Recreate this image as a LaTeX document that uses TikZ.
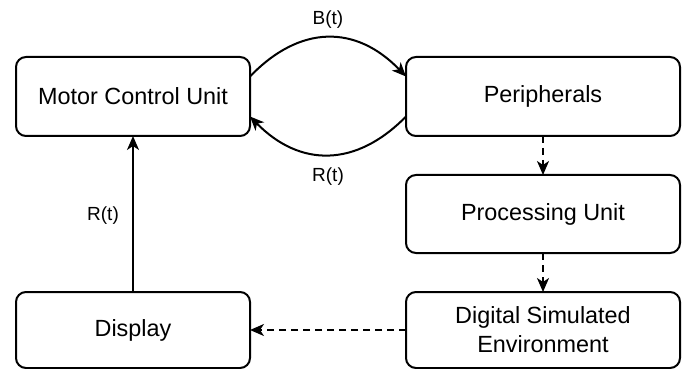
\documentclass[tikz,border=0pt]{standalone}
\usepackage{fontspec}
\setmainfont{Liberation Sans}
\usetikzlibrary{arrows.meta,calc}
\begin{document}
\begin{tikzpicture}[x=0.5pt,y=-0.5pt,
  box/.style={draw, line width=1pt, rounded corners=5pt, inner sep=0pt, outer sep=0pt,
    align=center, font=\fontsize{11.7}{14.5}\selectfont},
  leftbox/.style={box, minimum width=117pt},
  rightbox/.style={box, minimum width=137pt},
  link/.style={line width=1pt, -{Stealth[length=7pt,width=6pt,inset=2pt]}},
  dashlink/.style={link, dash pattern=on 3.5pt off 2.5pt},
  lbl/.style={font=\fontsize{9.5}{11}\selectfont, inner sep=0pt}]
\useasboundingbox (0,0) rectangle (686,369);

% blocks
\node[leftbox, minimum height=39.5pt] (mcu) at (133,96.5) {Motor Control Unit};
\node[rightbox, minimum height=39.5pt] (per) at (543,96.5) {Peripherals};
\node[rightbox, minimum height=39pt] (proc) at (543,214) {Processing Unit};
\node[rightbox, minimum height=38pt] (dse) at (543,330) {Digital Simulated\\Environment};
\node[leftbox, minimum height=38pt] (disp) at (133,330) {Display};

% signal loop between controller and peripherals
\draw[link] ($(mcu.east)+(0,-20)$) .. controls +(50,-52) and +(-50,-52) .. ($(per.west)+(0,-20)$);
\draw[link] ($(per.west)+(0,20)$) .. controls +(-50,51) and +(50,51) .. ($(mcu.east)+(0,20)$);
\node[lbl] (bt) at (328,20) {B(t)};
\node[lbl] (rt1) at (328,177) {R(t)};

% processing chain
\draw[dashlink] (per.south) -- (proc.north);
\draw[dashlink] (proc.south) -- (dse.north);
\draw[dashlink] (dse.west) -- (disp.east);

% feedback from display
\draw[link] (disp.north) -- (mcu.south);
\node[lbl] (rt2) at (103,216) {R(t)};
\end{tikzpicture}
\end{document}
